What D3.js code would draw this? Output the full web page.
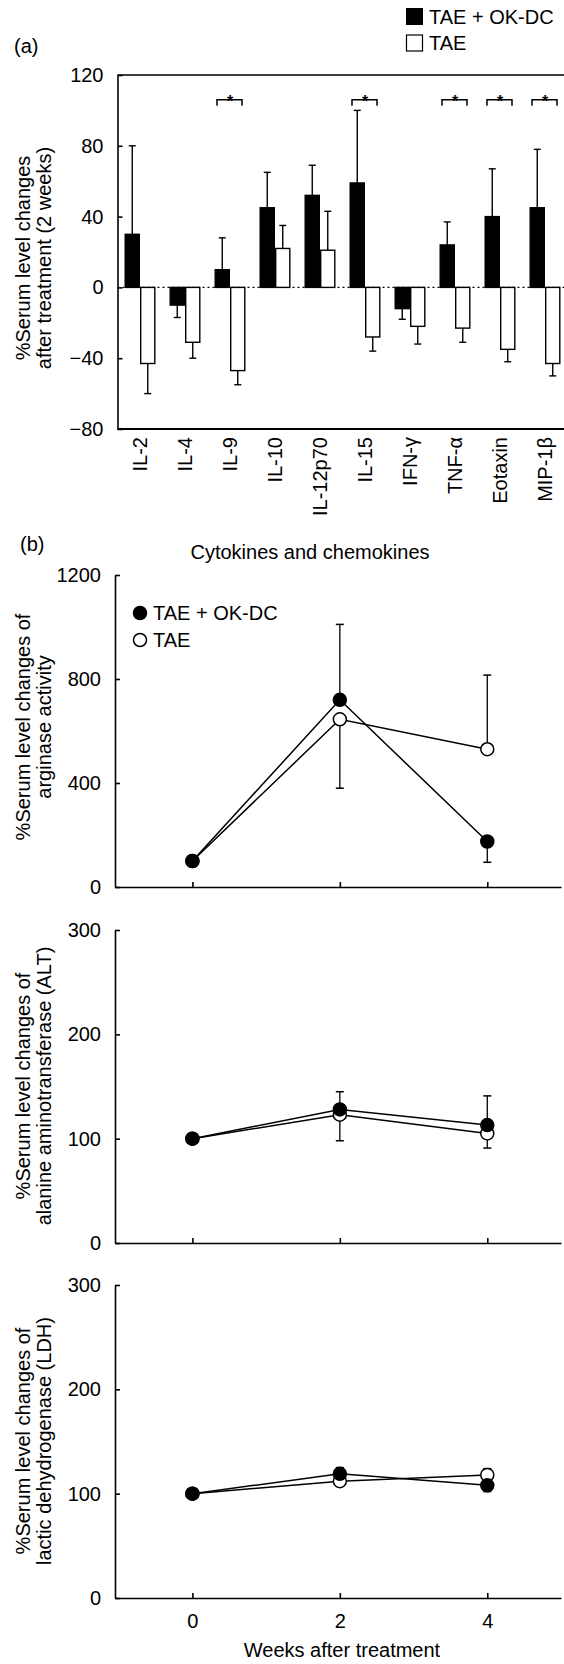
<!DOCTYPE html>
<html><head><meta charset="utf-8">
<script src="https://cdn.jsdelivr.net/npm/d3@7"></script>
<style>
body{margin:0;background:#fff}
text{font-family:"Liberation Sans",Arial,Helvetica,sans-serif;fill:#000}
</style>
</head><body>
<svg id="c" width="564" height="1664" xmlns="http://www.w3.org/2000/svg"></svg>
<script>
// ---------- Panel (a) data ----------
const cytokines = ["IL-2","IL-4","IL-9","IL-10","IL-12p70","IL-15","IFN-γ","TNF-α","Eotaxin","MIP-1β"];
const okdcChange = [30,-10,10,45,52,59,-12,24,40,45];
const okdcErr    = [50,7,18,20,17,41,6,13,27,33];
const taeChange  = [-43,-31,-47,22,21,-28,-22,-23,-35,-43];
const taeErr     = [17,9,8,13,22,8,10,8,7,7];
const significant = ["IL-9","IL-15","TNF-α","Eotaxin","MIP-1β"];
const barTicks = [-80,-40,0,40,80,120];
const seriesNames = ["TAE + OK-DC","TAE"];

// ---------- Panel (b) data ----------
const weeks = [0,2,4];
const weekTicks = [0,2,4];
const arginaseOkdc = [100,720,175];
const arginaseOkdcSd = [0,290,80];
const arginaseTae = [100,645,530];
const arginaseTaeSd = [0,265,285];
const arginaseTicks = [0,400,800,1200];

const altOkdc = [100,128,113];
const altOkdcSd = [0,17,28];
const altTae = [100,123,105];
const altTaeSd = [0,25,14];

const ldhOkdc = [100,119,108];
const ldhOkdcSd = [0,6,6];
const ldhTae = [100,112,118];
const ldhTaeSd = [0,5,6];
const enzymeTicks = [0,100,200,300];

const svg = d3.select("#c");
const FS = 20;

// ================= Panel (a) =================
const ax0 = 117.5, ax1 = 567.5;
const yA = d3.scaleLinear().domain([-80,120]).range([429,75]);
const x0 = d3.scaleBand().domain(cytokines).range([ax0, ax1]).paddingInner(0.311).paddingOuter(0.1556);
const x1 = d3.scaleBand().domain(["okdc","tae"]).range([0, x0.bandwidth()]);

const gA = svg.append("g");
// zero dotted line
gA.append("line").attr("x1",ax0).attr("x2",564).attr("y1",yA(0)).attr("y2",yA(0))
  .attr("stroke","#000").attr("stroke-width",1.2).attr("stroke-dasharray","2,3");

const barData = cytokines.map((c,i)=>[
  {c, key:"okdc", v:okdcChange[i], e:okdcErr[i]},
  {c, key:"tae", v:taeChange[i], e:taeErr[i]}
]).flat();

// error bars
const eg = gA.append("g").attr("stroke","#000").attr("stroke-width",1.4);
barData.forEach(d=>{
  const cx = x0(d.c) + x1(d.key) + x1.bandwidth()/2;
  const end = d.v + Math.sign(d.v)*d.e;
  eg.append("line").attr("x1",cx).attr("x2",cx).attr("y1",yA(d.v)).attr("y2",yA(end));
  eg.append("line").attr("x1",cx-3.5).attr("x2",cx+3.5).attr("y1",yA(end)).attr("y2",yA(end));
});

gA.append("g").selectAll("rect").data(barData).join("rect")
  .attr("x",d=>x0(d.c)+x1(d.key)+0.7)
  .attr("width",x1.bandwidth()-1.4)
  .attr("y",d=>yA(Math.max(0,d.v)))
  .attr("height",d=>Math.abs(yA(d.v)-yA(0)))
  .attr("fill",d=>d.key==="okdc"?"#000":"#fff")
  .attr("stroke","#000").attr("stroke-width",1.4);

// significance brackets
const brY = yA(106);
significant.forEach(c=>{
  const cx = x0(c) + x0.bandwidth()/2;
  const l = cx-13, r = cx+12;
  gA.append("path").attr("d",`M${l},${brY+6}V${brY}H${r}V${brY+6}`)
    .attr("fill","none").attr("stroke","#000").attr("stroke-width",1.5);
  gA.append("text").attr("x",cx).attr("y",brY+7).attr("text-anchor","middle")
    .attr("font-size",16).attr("font-weight","bold").text("*");
});

// axes/frame
const axA = gA.append("g").attr("transform",`translate(${ax0},0)`)
  .call(d3.axisLeft(yA).tickValues(barTicks).tickSize(-5).tickSizeOuter(0).tickPadding(14).tickFormat(d=>d<0?"\u2212"+Math.abs(d):d));
axA.selectAll("text").attr("font-size",FS).attr("font-family",null);
axA.selectAll("path,line").attr("stroke","#000").attr("stroke-width",1.6);
gA.append("line").attr("x1",ax0).attr("x2",564).attr("y1",yA(120)).attr("y2",yA(120)).attr("stroke","#000").attr("stroke-width",1.6);
gA.append("line").attr("x1",ax0).attr("x2",564).attr("y1",yA(-80)).attr("y2",yA(-80)).attr("stroke","#000").attr("stroke-width",1.8);

// category labels
gA.append("g").selectAll("text").data(cytokines).join("text")
  .attr("transform",d=>`translate(${x0(d)+x0.bandwidth()/2},437) rotate(-90)`)
  .attr("dy","0.35em").attr("text-anchor","end").attr("font-size",FS).text(d=>d);

// y label
const ylA = gA.append("text").attr("transform","translate(0,258) rotate(-90)").attr("text-anchor","middle").attr("font-size",FS);
ylA.append("tspan").attr("x",0).attr("y",30).text("%Serum level changes");
ylA.append("tspan").attr("x",0).attr("y",51).text("after treatment (2 weeks)");

// legend a
svg.append("rect").attr("x",406).attr("y",8).attr("width",17).attr("height",17).attr("fill","#000");
svg.append("text").attr("x",429).attr("y",24).attr("font-size",FS).text(seriesNames[0]);
svg.append("rect").attr("x",406.5).attr("y",35).attr("width",16).attr("height",16).attr("fill","#fff").attr("stroke","#000").attr("stroke-width",1.2);
svg.append("text").attr("x",429).attr("y",50).attr("font-size",FS).text(seriesNames[1]);
svg.append("text").attr("x",14).attr("y",53).attr("font-size",FS).text("(a)");

// ================= Panel (b) =================
svg.append("text").attr("x",20).attr("y",551).attr("font-size",FS).text("(b)");
svg.append("text").attr("x",310).attr("y",559).attr("text-anchor","middle").attr("font-size",FS).text("Cytokines and chemokines");

const xB = d3.scaleLinear().domain([-1.05,5]).range([115,561]);

function linePanel(cfg){
  const y = d3.scaleLinear().domain(cfg.domain).range(cfg.range);
  const g = svg.append("g");
  // axes
  const axL = g.append("g").attr("transform",`translate(${xB(-1.05)},0)`)
    .call(d3.axisLeft(y).tickValues(cfg.ticks).tickSize(-5).tickSizeOuter(0).tickPadding(14).tickFormat(d3.format("d")));
  axL.selectAll("text").attr("font-size",FS).attr("font-family",null);
  axL.selectAll("path,line").attr("stroke","#000").attr("stroke-width",1.6);
  const axB = g.append("g").attr("transform",`translate(0,${y(cfg.domain[0])})`)
    .call(d3.axisBottom(xB).tickValues(weekTicks).tickSize(-5).tickSizeOuter(0).tickPadding(16)
      .tickFormat(cfg.showX ? d3.format("d") : ()=>""));
  axB.selectAll("text").attr("font-size",FS).attr("font-family",null);
  axB.selectAll("path,line").attr("stroke","#000").attr("stroke-width",1.6);

  const series = [
    {vals:cfg.okdc, sd:cfg.okdcSd, other:cfg.tae, fill:"#000"},
    {vals:cfg.tae, sd:cfg.taeSd, other:cfg.okdc, fill:"#fff"}
  ];
  const line = d3.line().x((d,i)=>xB(weeks[i])).y(d=>y(d));
  series.forEach(s=>{
    g.append("path").attr("d",line(s.vals)).attr("fill","none").attr("stroke","#000").attr("stroke-width",1.5);
  });
  // error bars: upper series upward, lower series downward
  series.forEach(s=>{
    s.vals.forEach((v,i)=>{
      if(!s.sd[i]) return;
      const dir = v >= s.other[i] ? 1 : -1;
      const end = v + dir*s.sd[i];
      const cx = xB(weeks[i]);
      g.append("line").attr("x1",cx).attr("x2",cx).attr("y1",y(v)).attr("y2",y(end)).attr("stroke","#000").attr("stroke-width",1.3);
      g.append("line").attr("x1",cx-4).attr("x2",cx+4).attr("y1",y(end)).attr("y2",y(end)).attr("stroke","#000").attr("stroke-width",1.5);
    });
  });
  // markers: open first, then filled
  [series[1], series[0]].forEach(s=>{
    g.append("g").selectAll("circle").data(s.vals).join("circle")
      .attr("cx",(d,i)=>xB(weeks[i])).attr("cy",d=>y(d)).attr("r",6.5)
      .attr("fill",s.fill).attr("stroke","#000").attr("stroke-width",1.5);
  });
  // y label
  const mid = cfg.labelY;
  const t = g.append("text").attr("transform",`translate(0,${mid}) rotate(-90)`).attr("text-anchor","middle").attr("font-size",FS);
  t.append("tspan").attr("x",0).attr("y",30).text(cfg.label[0]);
  t.append("tspan").attr("x",0).attr("y",51).text(cfg.label[1]);
  return {g,y};
}

linePanel({domain:[0,1200], range:[887,575], ticks:arginaseTicks,
  okdc:arginaseOkdc, okdcSd:arginaseOkdcSd, tae:arginaseTae, taeSd:arginaseTaeSd,
  label:["%Serum level changes of","arginase activity"], labelY:727, showX:false});

// legend b
svg.append("circle").attr("cx",140).attr("cy",613).attr("r",6.5).attr("fill","#000").attr("stroke","#000").attr("stroke-width",1.5);
svg.append("text").attr("x",153).attr("y",620).attr("font-size",FS).text(seriesNames[0]);
svg.append("circle").attr("cx",140).attr("cy",640).attr("r",6.5).attr("fill","#fff").attr("stroke","#000").attr("stroke-width",1.5);
svg.append("text").attr("x",153).attr("y",647).attr("font-size",FS).text(seriesNames[1]);

linePanel({domain:[0,300], range:[1243,930], ticks:enzymeTicks,
  okdc:altOkdc, okdcSd:altOkdcSd, tae:altTae, taeSd:altTaeSd,
  label:["%Serum level changes of","alanine aminotransferase (ALT)"], labelY:1086, showX:false});

linePanel({domain:[0,300], range:[1598,1285], ticks:enzymeTicks,
  okdc:ldhOkdc, okdcSd:ldhOkdcSd, tae:ldhTae, taeSd:ldhTaeSd,
  label:["%Serum level changes of","lactic dehydrogenase (LDH)"], labelY:1441, showX:true});

svg.append("text").attr("x",342).attr("y",1657).attr("text-anchor","middle").attr("font-size",FS).text("Weeks after treatment");
</script>
</body></html>
